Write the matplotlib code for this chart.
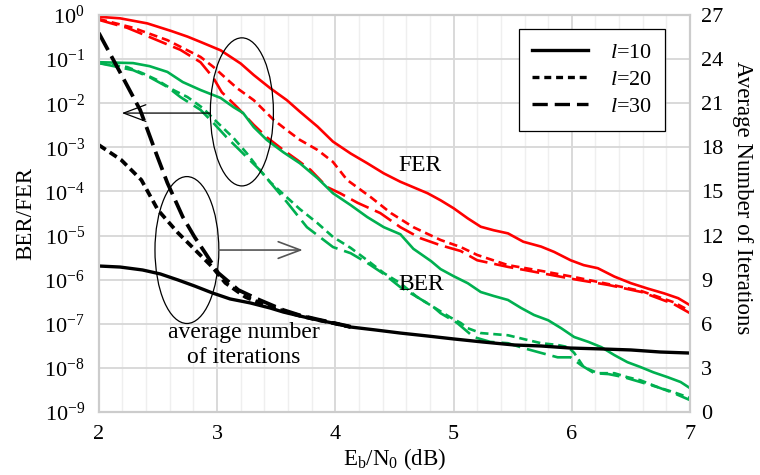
import numpy as np
import matplotlib
matplotlib.use('Agg')
import matplotlib.pyplot as plt
from matplotlib.lines import Line2D
from matplotlib.patches import Ellipse

plt.rcParams['font.family'] = ['Liberation Serif', 'DejaVu Serif']
plt.rcParams['mathtext.fontset'] = 'custom'
plt.rcParams['mathtext.rm'] = 'Liberation Serif'
plt.rcParams['mathtext.it'] = 'Liberation Serif:italic'
plt.rcParams['mathtext.default'] = 'regular'
plt.rcParams['axes.unicode_minus'] = False
plt.rcParams['lines.scale_dashes'] = False
plt.rcParams['lines.solid_joinstyle'] = 'round'
plt.rcParams['lines.dash_joinstyle'] = 'round'

# FER curves, stored as log10 of the frame error rate
fer10_x = [2.0, 2.18, 2.41, 2.61, 2.75, 2.86, 3.03, 3.20, 3.31, 3.45, 3.59, 3.70, 3.85, 3.98, 4.13, 4.27,
           4.41, 4.55, 4.78, 4.89, 5.0, 5.12, 5.23, 5.34, 5.46, 5.59, 5.74, 5.85, 5.99, 6.10, 6.22, 6.36,
           6.50, 6.64, 6.78, 6.90, 7.0]
fer10_e = [-0.04, -0.075, -0.19, -0.36, -0.49, -0.61, -0.80, -1.10, -1.36, -1.66, -1.93, -2.19, -2.53,
           -2.87, -3.14, -3.36, -3.59, -3.78, -4.04, -4.20, -4.38, -4.61, -4.80, -4.88, -4.95, -5.14,
           -5.25, -5.37, -5.56, -5.67, -5.74, -5.93, -6.08, -6.20, -6.31, -6.42, -6.58]
fer20_x = [2.0, 2.29, 2.58, 2.86, 2.97, 3.09, 3.17, 3.31, 3.48, 3.59, 3.70, 3.85, 3.98, 4.10, 4.30,
           4.47, 4.66, 4.89, 5.06, 5.20, 5.46, 5.74, 6.02, 6.31, 6.59, 6.86, 7.0]
fer20_e = [-0.09, -0.29, -0.57, -0.95, -1.18, -1.47, -1.66, -1.93, -2.38, -2.61, -2.83, -3.06, -3.33,
           -3.74, -4.13, -4.49, -4.81, -5.10, -5.26, -5.44, -5.67, -5.80, -5.94, -6.10, -6.26, -6.51, -6.71]
fer30_x = [2.0, 2.24, 2.43, 2.69, 2.86, 2.97, 3.04, 3.17, 3.31, 3.42, 3.56, 3.68, 3.79, 3.93, 4.04,
           4.19, 4.38, 4.55, 4.72, 4.89, 5.06, 5.20, 5.46, 5.74, 6.02, 6.31, 6.59, 6.86, 7.0]
fer30_e = [-0.11, -0.29, -0.50, -0.79, -1.07, -1.43, -1.75, -2.09, -2.49, -2.77, -3.06, -3.29, -3.51,
           -3.90, -4.04, -4.26, -4.49, -4.81, -5.06, -5.22, -5.35, -5.56, -5.71, -5.85, -5.99, -6.12,
           -6.28, -6.55, -6.76]

# BER curves, stored as log10 of the bit error rate
ber10_x = [2.0, 2.29, 2.43, 2.58, 2.71, 2.86, 3.03, 3.14, 3.22, 3.31, 3.42, 3.56, 3.70, 3.85, 3.98,
           4.13, 4.27, 4.41, 4.55, 4.66, 4.81, 4.89, 5.0, 5.12, 5.23, 5.34, 5.46, 5.57, 5.68, 5.80,
           5.91, 6.02, 6.14, 6.25, 6.36, 6.47, 6.58, 6.69, 6.81, 6.92, 7.0]
ber10_e = [-1.07, -1.09, -1.16, -1.29, -1.52, -1.70, -1.88, -2.09, -2.22, -2.54, -2.83, -3.11, -3.36,
           -3.70, -4.04, -4.31, -4.58, -4.81, -4.97, -5.30, -5.58, -5.76, -5.92, -6.08, -6.28, -6.37,
           -6.46, -6.64, -6.80, -6.92, -7.10, -7.30, -7.41, -7.53, -7.71, -7.87, -7.98, -8.10, -8.21,
           -8.32, -8.46]
ber20_x = [2.0, 2.24, 2.37, 2.49, 2.63, 2.75, 2.88, 3.0, 3.14, 3.25, 3.36, 3.45, 3.56, 3.70, 3.85,
           3.98, 4.13, 4.27, 4.41, 4.55, 4.69, 4.83, 4.97, 5.06, 5.12, 5.23, 5.46, 5.63, 5.74, 5.88,
           5.97, 6.02, 6.10, 6.22, 6.36, 6.47, 6.58, 6.73, 6.86, 7.0]
ber20_e = [-1.09, -1.18, -1.32, -1.47, -1.70, -1.86, -2.11, -2.43, -2.79, -3.13, -3.51, -3.79, -4.06,
           -4.40, -4.72, -5.03, -5.28, -5.56, -5.85, -6.08, -6.39, -6.62, -6.85, -6.98, -7.10, -7.21,
           -7.26, -7.37, -7.44, -7.48, -7.53, -7.66, -7.98, -8.12, -8.12, -8.21, -8.28, -8.44, -8.55,
           -8.68]
ber30_x = [2.0, 2.29, 2.43, 2.58, 2.69, 2.86, 2.97, 3.08, 3.19, 3.36, 3.59, 3.76, 3.98, 4.13, 4.27,
           4.41, 4.55, 4.69, 4.83, 4.89, 5.03, 5.17, 5.31, 5.46, 5.59, 5.74, 5.88, 5.99, 6.08, 6.19,
           6.31, 6.44, 6.58, 6.73, 6.86, 7.0]
ber30_e = [-1.09, -1.25, -1.41, -1.63, -1.86, -2.15, -2.45, -2.77, -3.06, -3.51, -4.24, -4.81, -5.26,
           -5.40, -5.62, -5.87, -6.17, -6.39, -6.62, -6.76, -6.98, -7.30, -7.41, -7.44, -7.55, -7.66,
           -7.76, -7.76, -7.94, -8.12, -8.14, -8.21, -8.32, -8.44, -8.57, -8.73]

# average number of iterations (right axis)
it10_x = [2.0, 2.18, 2.37, 2.52, 2.67, 2.81, 2.96, 3.11, 3.28, 3.45, 3.56, 3.70, 3.85, 3.98, 4.13,
          4.34, 4.55, 4.78, 5.0, 5.25, 5.51, 5.74, 5.99, 6.25, 6.50, 6.75, 7.0]
it10_y = [9.93, 9.86, 9.66, 9.39, 8.98, 8.57, 8.10, 7.69, 7.42, 7.07, 6.80, 6.53, 6.26, 6.05, 5.78,
          5.58, 5.37, 5.17, 4.97, 4.76, 4.56, 4.49, 4.35, 4.29, 4.22, 4.08, 4.01]
it20_x = [2.0, 2.19, 2.36, 2.50, 2.67, 2.84, 2.96, 3.07, 3.24, 3.40, 3.56, 3.70, 3.85, 3.98, 4.13]
it20_y = [18.16, 17.14, 15.78, 13.74, 12.18, 10.82, 9.86, 8.78, 7.82, 7.30, 6.87, 6.55, 6.26, 6.05, 5.78]
it30_x = [2.0, 2.18, 2.35, 2.49, 2.58, 2.71, 2.81, 2.90, 3.01, 3.18, 3.36, 3.56, 3.70, 3.85, 3.98, 4.13]
it30_y = [25.78, 23.1, 20.54, 17.48, 15.58, 13.27, 11.90, 10.82, 9.46, 8.30, 7.62, 6.94, 6.58, 6.30,
          6.07, 5.80]

legend_labels = [r'$\mathit{l}$=10', r'$\mathit{l}$=20', r'$\mathit{l}$=30']

red = '#ff0000'
green = '#00b050'
solid = '-'
short = (0, (6, 3.5))
long_ = (0, (14, 5))

fig = plt.figure(figsize=(7.6, 4.75), dpi=100)
ax = fig.add_axes([0.130, 0.1326, 0.778, 0.8358])
ax2 = ax.twinx()

for xs, es, ls in [(fer10_x, fer10_e, solid), (fer20_x, fer20_e, short), (fer30_x, fer30_e, long_)]:
    ax.plot(xs, 10 ** np.array(es), color=red, lw=1.9, ls=ls)
for xs, es, ls in [(ber10_x, ber10_e, solid), (ber20_x, ber20_e, short), (ber30_x, ber30_e, long_)]:
    ax.plot(xs, 10 ** np.array(es), color=green, lw=1.9, ls=ls)

ax2.plot(it30_x, it30_y, color='black', lw=2.7, ls=long_)
ax2.plot(it20_x, it20_y, color='black', lw=2.7, ls=short)
ax2.plot(it10_x, it10_y, color='black', lw=2.4, ls=solid)

ax.set_yscale('log')
ax.set_xlim(2, 7)
ax.set_ylim(1e-9, 1)
ax.set_yticks([10.0 ** k for k in range(-9, 1)])
ax.set_xticks(range(2, 8))
ax.set_xticks(np.arange(2, 7.01, 0.2), minor=True)
ax2.set_ylim(0, 27)
ax2.set_yticks(range(0, 28, 3))

ax.grid(True, which='major', color='#d9d9d9', lw=1.4)
ax.grid(True, which='minor', color='#efefef', lw=1.0)
ax.set_axisbelow(True)

for a in (ax, ax2):
    a.tick_params(which='both', length=0, labelsize=16)
    for s in a.spines.values():
        s.set_color('#cccccc')
        s.set_linewidth(1.5)
ax.tick_params(axis='y', pad=10)
ax.tick_params(axis='x', pad=9)
ax2.tick_params(axis='y', pad=8)

ax.set_xlabel(r'E$_b$/N$_0$ (dB)', fontsize=16.5, labelpad=2)
ax.set_ylabel('BER/FER', fontsize=16.5, labelpad=6)
ax2.set_ylabel('Average Number of Iterations', fontsize=16.5, rotation=270,
               ha='center', va='center')
ax2.yaxis.set_label_coords(1.088, 0.539)

# labels and callouts
ax2.text(0.544, 0.620, 'FER', transform=ax.transAxes, fontsize=17, ha='center', va='center')
ax2.text(0.545, 0.320, 'BER', transform=ax.transAxes, fontsize=17, ha='center', va='center')
ax2.text(0.245, 0.169, 'average number\nof iterations', transform=ax.transAxes, fontsize=17,
         ha='center', va='center', linespacing=1.25)

ax2.add_patch(Ellipse((0.242, 0.756), 0.1066, 0.373, transform=ax.transAxes,
                      fill=False, ec='black', lw=0.9))
ax2.add_patch(Ellipse((0.149, 0.408), 0.108, 0.370, transform=ax.transAxes,
                      fill=False, ec='black', lw=0.9))
ax2.annotate('', xy=(0.039, 0.753), xytext=(0.188, 0.753), xycoords=ax.transAxes,
             textcoords=ax.transAxes,
             arrowprops=dict(arrowstyle='->,head_length=0.8,head_width=0.3', color='black',
                             lw=0.9, mutation_scale=20, shrinkA=0, shrinkB=0))
ax2.annotate('', xy=(0.345, 0.408), xytext=(0.203, 0.408), xycoords=ax.transAxes,
             textcoords=ax.transAxes,
             arrowprops=dict(arrowstyle='->,head_length=0.8,head_width=0.3', color='#555555',
                             lw=1.2, mutation_scale=20, shrinkA=0, shrinkB=0))

handles = [Line2D([], [], color='black', lw=2.4, ls=solid),
           Line2D([], [], color='black', lw=2.4, ls=(0, (5, 3.5))),
           Line2D([], [], color='black', lw=2.4, ls=(0, (11, 5)))]
leg = ax2.legend(handles, legend_labels,
                 loc='upper right', bbox_to_anchor=(0.958, 0.965), fontsize=16,
                 frameon=True, fancybox=False, edgecolor='black', framealpha=1,
                 handlelength=2.5, handletextpad=1.0, borderpad=0.6, labelspacing=0.3,
                 borderaxespad=0)
leg.get_frame().set_linewidth(0.9)

fig.savefig('out.png', dpi=100)
